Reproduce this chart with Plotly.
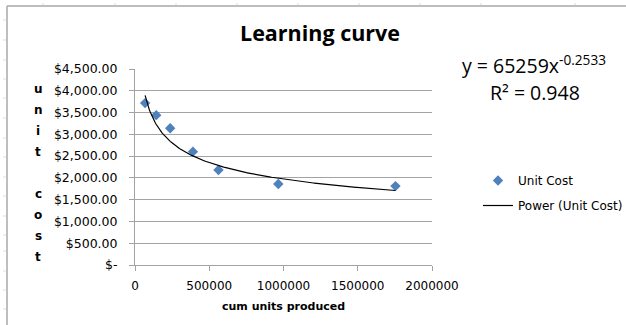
import numpy as np
import plotly.graph_objects as go

# Cumulative units produced vs. unit cost
cum_units = [68000, 143000, 237000, 390000, 562000, 965000, 1754000]
unit_cost = [3717, 3441, 3141, 2602, 2181, 1858, 1812]

# Power trendline coefficients (y = a * x^b)
fit_a = 65259
fit_b = -0.2533
fit_r2 = 0.948

y_tickvals = [0, 500, 1000, 1500, 2000, 2500, 3000, 3500, 4000, 4500]
y_ticktext = ["$-", "$500.00", "$1,000.00", "$1,500.00", "$2,000.00", "$2,500.00",
              "$3,000.00", "$3,500.00", "$4,000.00", "$4,500.00"]
x_tickvals = [0, 500000, 1000000, 1500000, 2000000]
x_ticktext = ["0", "500000", "1000000", "1500000", "2000000"]

W, H = 626, 325
ML, MR, MT, MB = 135, 194, 69, 60
PW, PH = W - ML - MR, H - MT - MB


def px(x):
    return (x - ML) / PW


def py(y):
    return 1 - (y - MT) / PH


TXT = "DejaVu Sans"
HEAD = "Open Sans"
GRID = "#a3a3a3"

fx = np.linspace(min(cum_units), max(cum_units), 300)
fy = fit_a * fx ** fit_b

fig = go.Figure()
fig.add_trace(go.Scatter(
    x=cum_units, y=unit_cost, mode="markers", name="Unit Cost",
    legendgroup="a",
    marker=dict(symbol="diamond", size=8, color="#4f81bd"),
))
fig.add_trace(go.Scatter(
    x=fx, y=fy, mode="lines", name="Power (Unit Cost)",
    legendgroup="b",
    line=dict(color="black", width=1.2),
))

shapes = [
    # worksheet frame around the chart object
    dict(type="line", xref="paper", yref="paper", x0=px(7), x1=px(7), y0=py(6), y1=py(330),
         line=dict(color="#a8a8a8", width=1.5)),
    dict(type="line", xref="paper", yref="paper", x0=px(7), x1=px(630), y0=py(6), y1=py(6),
         line=dict(color="#a8a8a8", width=1.5)),
]
for cx in [43, 115, 176, 237, 298, 359, 420, 481, 575]:
    shapes.append(dict(type="line", xref="paper", yref="paper", x0=px(cx), x1=px(cx),
                       y0=py(3), y1=py(5), line=dict(color="#dddddd", width=1)))
for ry in [20, 40, 60, 79, 98, 118, 138, 157, 177, 196, 216, 235, 251, 271, 290, 309]:
    shapes.append(dict(type="line", xref="paper", yref="paper", x0=px(3), x1=px(6),
                       y0=py(ry), y1=py(ry), line=dict(color="#dddddd", width=1)))


def label(text, x, y, family, size):
    return dict(text=text, x=px(x), y=py(y), xref="paper", yref="paper",
                xanchor="center", yanchor="middle", showarrow=False,
                font=dict(family=family, size=size, color="black"))


annotations = [
    label("<b>Learning curve</b>", 320, 32, HEAD, 21.5),
    label(f"y = {fit_a}x<sup>{fit_b}</sup>", 534, 64, HEAD, 19.5),
    label(f"R² = {fit_r2}", 535, 92, HEAD, 19.5),
    label("<b>cum units produced</b>", 283, 306, TXT, 11),
]
for i, ch in enumerate("unit cost"):
    if ch != " ":
        annotations.append(label(f"<b>{ch}</b>", 38, 89 + 21 * i, TXT, 12))

fig.update_layout(
    width=W, height=H,
    margin=dict(l=ML, r=MR, t=MT, b=MB, autoexpand=False),
    paper_bgcolor="white", plot_bgcolor="white",
    font=dict(family=TXT, size=12, color="black"),
    showlegend=True,
    legend=dict(x=px(478), y=py(166), xanchor="left", yanchor="top",
                traceorder="grouped", tracegroupgap=6,
                bgcolor="rgba(0,0,0,0)", font=dict(family=TXT, size=12, color="black")),
    xaxis=dict(range=[0, 2000000], tickvals=x_tickvals, ticktext=x_ticktext,
               showgrid=False, zeroline=False, showline=True, linecolor=GRID, linewidth=1,
               ticks="outside", ticklen=5, tickcolor=GRID, ticklabelstandoff=5,
               tickfont=dict(family=TXT, size=12, color="black")),
    yaxis=dict(range=[0, 4500], tickvals=y_tickvals, ticktext=y_ticktext,
               showgrid=True, gridcolor=GRID, gridwidth=1, zeroline=False,
               showline=True, linecolor=GRID, linewidth=1,
               ticks="outside", ticklen=5, tickcolor=GRID, ticklabelstandoff=9,
               tickfont=dict(family=TXT, size=12.5, color="black")),
    shapes=shapes, annotations=annotations,
)

fig.write_html("out.html")
